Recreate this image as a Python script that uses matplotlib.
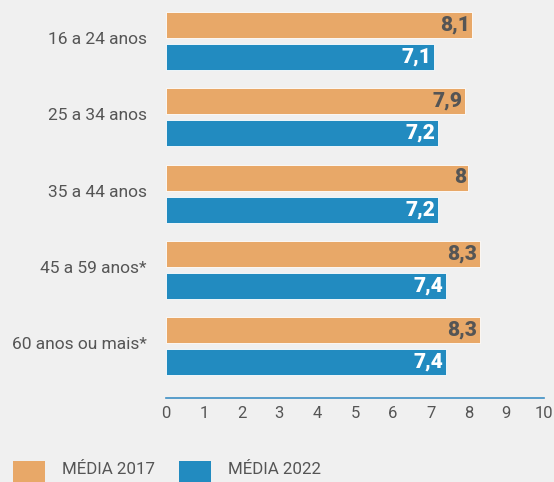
import numpy as np
import matplotlib
matplotlib.use("Agg")
import matplotlib.pyplot as plt
from matplotlib.patches import Rectangle

# dados
faixas = ["16 a 24 anos", "25 a 34 anos", "35 a 44 anos", "45 a 59 anos*", "60 anos ou mais*"]
media_2017 = [8.1, 7.9, 8.0, 8.3, 8.3]
media_2022 = [7.1, 7.2, 7.2, 7.4, 7.4]
rotulos_2017 = ["8,1", "7,9", "8", "8,3", "8,3"]
rotulos_2022 = ["7,1", "7,2", "7,2", "7,4", "7,4"]
series = ["MÉDIA 2017", "MÉDIA 2022"]
xticks = list(range(0, 11))

LARANJA = "#E8A868"
AZUL = "#228BC0"
FUNDO = "#F0F0F0"
CINZA = "#555555"

plt.rcParams["font.family"] = ["Roboto", "DejaVu Sans"]

fig = plt.figure(figsize=(5.54, 4.82), dpi=100, facecolor=FUNDO)
W, H = 554, 482
ax = fig.add_axes([166 / W, 1 - 398 / H, (544 - 166) / W, 398 / H])
ax.set_facecolor(FUNDO)

y = np.arange(len(faixas))
h = 26 / 76.25
off = 16 / 76.25
ax.barh(y - off, media_2017, height=h, color=LARANJA, edgecolor="white", linewidth=0.6)
ax.barh(y + off, media_2022, height=h, color=AZUL, edgecolor="white", linewidth=0.6)

for i in range(len(faixas)):
    ax.text(media_2017[i] - 0.07, y[i] - off, rotulos_2017[i], ha="right", va="center",
            fontsize=15, fontweight="black", color=CINZA)
    ax.text(media_2022[i] - 0.07, y[i] + off, rotulos_2022[i], ha="right", va="center",
            fontsize=15, fontweight="black", color="white")

ax.set_ylim(4.68, -0.54)
ax.set_xlim(0, 10)
ax.set_yticks(y - 0.04)
ax.set_yticklabels(faixas, fontsize=12.5, color=CINZA)
ax.set_xticks(xticks)
ax.set_xticklabels([str(t) for t in xticks], fontsize=12, color=CINZA)
ax.tick_params(axis="both", length=0)
ax.tick_params(axis="x", pad=6)
ax.tick_params(axis="y", pad=14)
for s in ["top", "right", "left"]:
    ax.spines[s].set_visible(False)
ax.spines["bottom"].set_color("#3E8FC4")
ax.spines["bottom"].set_linewidth(1.2)

# legenda manual (quadrados cortados na borda inferior, como no original)
for x0, cor, nome in [(13, LARANJA, series[0]), (179, AZUL, series[1])]:
    fig.add_artist(Rectangle((x0 / W, 0), 32 / W, 21 / H, transform=fig.transFigure,
                             facecolor=cor, edgecolor="none"))
    fig.text((x0 + 49) / W, 1 - 470 / H, nome, ha="left", va="center",
             fontsize=12.2, color=CINZA)

fig.savefig("out.png", dpi=100, facecolor=FUNDO)
